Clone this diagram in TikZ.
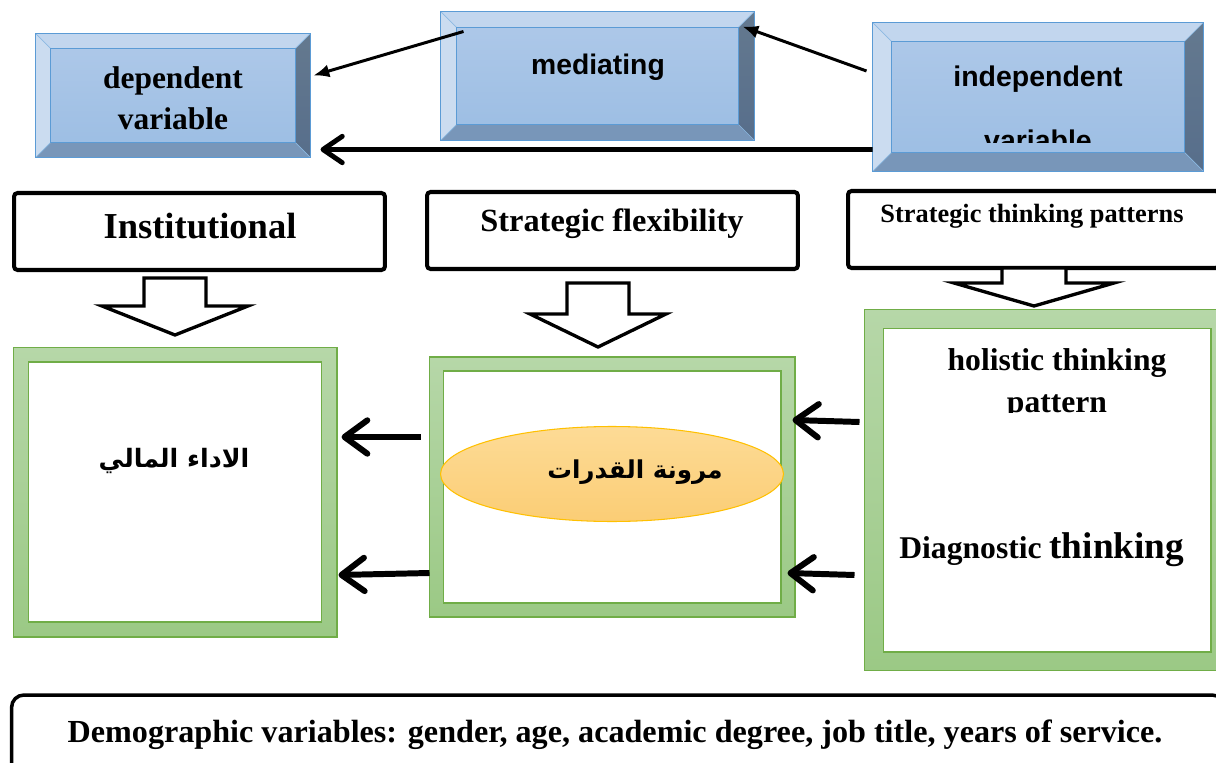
\documentclass[tikz,border=0pt]{standalone}
\usepackage{fontspec}
\setmainfont{Liberation Serif}
\newfontfamily\arialfont{Liberation Sans}
\newfontfamily\arabicfont[Script=Arabic]{DejaVu Sans}
\TeXXeTstate=1
\usetikzlibrary{arrows.meta,positioning,calc,shapes.geometric,shadows}
\definecolor{bevborder}{RGB}{91,155,213}
\definecolor{bevtop}{RGB}{194,214,238}
\definecolor{bevleft}{RGB}{203,220,240}
\definecolor{bevmidtop}{RGB}{175,201,233}
\definecolor{bevmidbot}{RGB}{155,189,227}
\definecolor{bevrighttop}{RGB}{100,121,143}
\definecolor{bevrightbot}{RGB}{87,110,139}
\definecolor{bevbottom}{RGB}{120,150,185}
\definecolor{frametop}{RGB}{182,215,168}
\definecolor{framebot}{RGB}{155,201,133}
\definecolor{frameline}{RGB}{112,173,71}
\definecolor{ovaltop}{RGB}{253,219,150}
\definecolor{ovalbot}{RGB}{251,205,117}
\definecolor{ovalline}{RGB}{255,192,0}
\tikzset{
  bevelbox/.style={rectangle, draw=bevborder, line width=0.6pt, top color=bevmidtop, bottom color=bevmidbot, inner sep=0pt},
  blackbox/.style={rectangle, rounded corners=2pt, draw=black, line width=2.3pt, fill=white, minimum width=7.42cm, minimum height=1.54cm},
  greenframe/.style={rectangle, draw=frameline, line width=0.6pt, top color=frametop, bottom color=framebot},
  innerbox/.style={rectangle, draw=frameline, line width=0.6pt, fill=white},
  hollow/.style={draw=black, line width=1.9pt, fill=white, line join=miter},
  lbl/.style={anchor=base, inner sep=0pt},
  thinarrow/.style={-{Latex[length=9pt,width=7.5pt]}, line width=1.7pt},
  boldarrow/.style={-{Straight Barb[length=11pt,width=15pt,round]}, line width=2.8pt},
  fatarrow/.style={-{Straight Barb[length=13pt,width=19pt,round]}, line width=3.4pt},
}
% bevel faces round a node: #1 node, #2 bevel size
\newcommand{\bevel}[2]{%
  \fill[bevtop] (#1.north west) -- (#1.north east) -- ($(#1.north east)+(-#2,-#2)$) -- ($(#1.north west)+(#2,-#2)$) -- cycle;
  \fill[bevleft] (#1.north west) -- ($(#1.north west)+(#2,-#2)$) -- ($(#1.south west)+(#2,#2)$) -- (#1.south west) -- cycle;
  \fill[bevbottom] (#1.south west) -- ($(#1.south west)+(#2,#2)$) -- ($(#1.south east)+(-#2,#2)$) -- (#1.south east) -- cycle;
  \shade[top color=bevrighttop, bottom color=bevrightbot] (#1.north east) -- (#1.south east) -- ($(#1.south east)+(-#2,#2)$) -- ($(#1.north east)+(-#2,-#2)$) -- cycle;
  \draw[bevborder!70, line width=0.4pt] (#1.north west) -- ($(#1.north west)+(#2,-#2)$) (#1.south west) -- ($(#1.south west)+(#2,#2)$) (#1.north east) -- ($(#1.north east)+(-#2,-#2)$) (#1.south east) -- ($(#1.south east)+(-#2,#2)$);
  \draw[bevborder, line width=0.6pt] ($(#1.north west)+(#2,-#2)$) rectangle ($(#1.south east)+(-#2,#2)$);
  \draw[bevborder, line width=0.6pt] (#1.north west) rectangle (#1.south east);
}
% hollow block arrow pointing down: x, top, neck, tip, shaft half, head half
\newcommand{\blockdown}[6]{%
  \draw[hollow] (#1-#5,#2) -- (#1-#5,#3) -- (#1-#6,#3) -- (#1,#4) -- (#1+#6,#3) -- (#1+#5,#3) -- (#1+#5,#2) -- cycle;
}
\begin{document}
\begin{tikzpicture}[x=0.02cm, y=-0.02cm]
\useasboundingbox (0,0) rectangle (1216,763);
\clip (0,0) rectangle (1216,763);
% Variable row
\node[bevelbox, minimum width=5.48cm, minimum height=2.46cm] (dep) at (173,95.5) {};
\node[bevelbox, minimum width=6.26cm, minimum height=2.56cm] (med) at (597.5,76) {};
\node[bevelbox, minimum width=6.6cm, minimum height=2.96cm] (ind) at (1038,97) {};
\bevel{dep}{0.3cm}
\bevel{med}{0.32cm}
\bevel{ind}{0.38cm}
\node[lbl, font=\fontsize{17.9}{20}\selectfont\bfseries] (deplbl) at (173,89) {dependent};
\node[lbl, font=\fontsize{17.9}{20}\selectfont\bfseries] (deplbl2) at (173,130) {variable};
\node[lbl, font=\arialfont\fontsize{16.1}{18}\selectfont\bfseries] (medlbl) at (598,75) {mediating};
\begin{scope}
\clip (ind.north west) rectangle ($(ind.south east)+(0,-29)$);
\node[lbl, font=\arialfont\fontsize{16.2}{18}\selectfont\bfseries] (indlbl) at (1038,87) {independent};
\node[lbl, font=\arialfont\fontsize{16.2}{18}\selectfont\bfseries] (indlbl2) at (1038,151) {variable};
\end{scope}
\draw[thinarrow] ($(med.north west)+(23,20)$) -- ($(dep.east)+(3,-20)$);
\draw[thinarrow] ($(ind.west)+(-6,-26)$) -- ($(med.north east)+(-12,15)$);
\draw[boldarrow] ($(ind.south west)+(0,-22)$) -- ($(dep.south east)+(10,-8)$);
% Concept row
\node[blackbox] (inst) at (199.5,231.5) {};
\node[blackbox] (flex) at (612.5,230.5) {};
\node[blackbox] (patbox) at (1033.5,229.5) {};
\node[lbl, font=\fontsize{20.8}{24}\selectfont\bfseries] (instlbl) at (200,239) {Institutional};
\node[lbl, font=\fontsize{18.4}{22}\selectfont\bfseries] (flexlbl) at (612,232) {Strategic flexibility};
\node[lbl, font=\fontsize{15}{18}\selectfont\bfseries] (patlbl) at (1032,223) {Strategic thinking patterns};
\blockdown{175}{278}{306}{335}{31}{73}
\blockdown{598}{283}{314}{347}{31}{68}
\blockdown{1034}{268}{283}{306}{32}{80}
% Dimension row
\node[greenframe, minimum width=6.48cm, minimum height=5.8cm] (perf) at (175,492) {};
\node[innerbox, minimum width=5.86cm, minimum height=5.2cm] (perfin) at (perf) {};
\node[greenframe, minimum width=7.32cm, minimum height=5.2cm] (mid) at (612,487) {};
\node[innerbox, minimum width=6.76cm, minimum height=4.64cm] (midin) at (mid) {};
\node[greenframe, minimum width=7.32cm, minimum height=7.24cm] (patframe) at (1047,490) {};
\node[innerbox, minimum width=6.56cm, minimum height=6.48cm] (patin) at (patframe) {};
\node[ellipse, draw=ovalline, line width=0.6pt, top color=ovaltop, bottom color=ovalbot, minimum width=6.86cm, minimum height=1.9cm, inner sep=0pt] (oval) at (612,474) {};
\node[lbl, font=\arabicfont\fontsize{14.4}{18}\selectfont\bfseries] (perflbl) at (174,467) {\beginR الاداء المالي\endR};
\node[lbl, font=\arabicfont\fontsize{14}{18}\selectfont\bfseries] (ovallbl) at (635,478) {\beginR مرونة القدرات\endR};
\begin{scope}
\clip (patin.north west) rectangle (1216,412);
\node[lbl, font=\fontsize{18}{22}\selectfont\bfseries] (hollbl) at (1057,370) {holistic thinking};
\node[lbl, font=\fontsize{18}{22}\selectfont\bfseries] (hollbl2) at (1057,412) {pattern};
\end{scope}
\node[lbl, anchor=base west, font=\fontsize{18}{22}\selectfont\bfseries] (diaglbl) at (899,558) {Diagnostic {\fontsize{21.2}{24}\selectfont thinking}};
\draw[fatarrow] ($(mid.west)+(-8,-50)$) -- ($(perf.east)+(4,-55)$);
\draw[fatarrow] ($(mid.west)+(1,86)$) -- ($(perf.east)+(1,83)$);
\draw[fatarrow] ($(patframe.west)+(-4,-68)$) -- ($(mid.east)+(-3,-67)$);
\draw[fatarrow] ($(patframe.west)+(-9,85)$) -- ($(mid.east)+(-8,86)$);
% Demographic box
\node[rectangle, rounded corners=7pt, draw=black, line width=2pt, fill=white, drop shadow={shadow xshift=0.6pt, shadow yshift=-0.8pt, opacity=0.35}, minimum width=24.26cm, minimum height=1.6cm] (demo) at (618,735) {};
\node[lbl, font=\fontsize{18.3}{20}\selectfont\bfseries] (demolbl) at (615,742) {Demographic variables: gender, age, academic degree, job title, years of service.};
\end{tikzpicture}
\end{document}
